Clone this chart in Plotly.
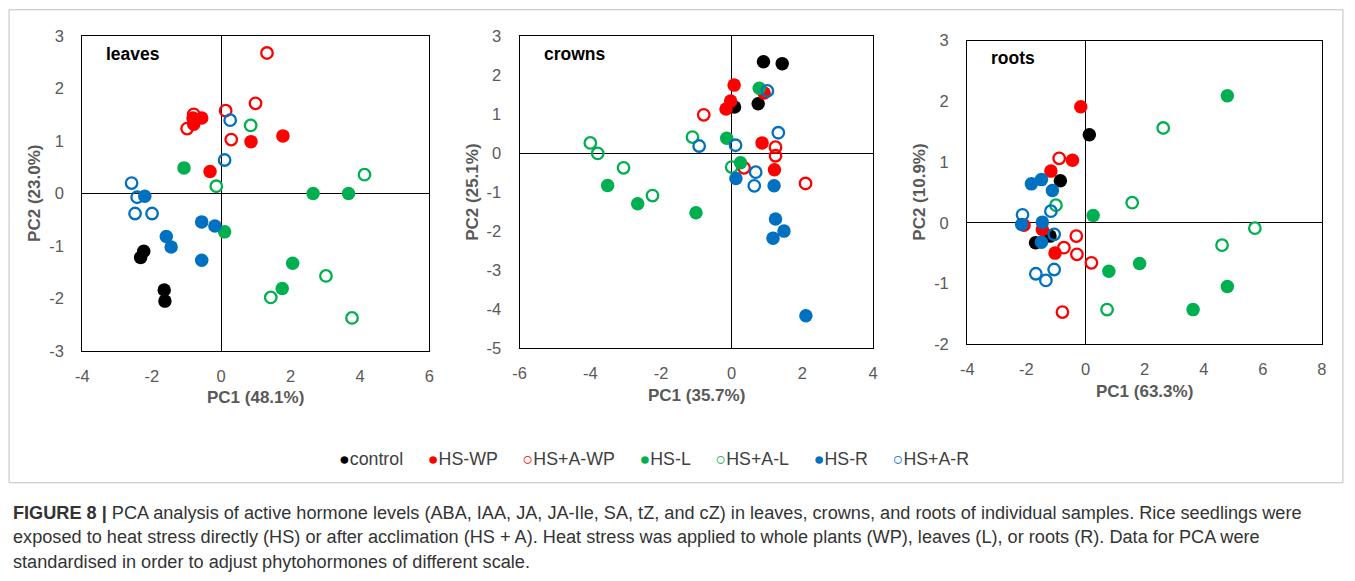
import plotly.graph_objects as go

# page geometry: the plot div sits inside an 8px body margin; the captured
# page (about 1366 x 599) comes out scaled to 1355 x 581
PAD = 8
W, H = 1350, 582
SX = 1355 / 1366
SY = 581 / 599

# ---- PCA scores per tissue (PC1, PC2) ----
groups = ["control", "HS-WP", "HS+A-WP", "HS-L", "HS+A-L", "HS-R", "HS+A-R"]
colors = {"control": "#000000", "HS-WP": "#FF0000", "HS+A-WP": "#FF0000",
          "HS-L": "#00B050", "HS+A-L": "#00B050", "HS-R": "#0070C0", "HS+A-R": "#0070C0"}
open_groups = {"HS+A-WP", "HS+A-L", "HS+A-R"}

leaves_pc1 = {
    "control": [-2.23, -2.32, -1.64, -1.62],
    "HS-WP": [-0.81, -0.79, -0.56, -0.32, 0.86, 1.78],
    "HS+A-WP": [-0.98, -0.79, 0.13, 0.29, 0.99, 1.32],
    "HS-L": [-1.07, 0.10, 2.65, 3.67, 2.06, 1.76],
    "HS+A-L": [-0.14, 0.85, 4.13, 3.02, 1.43, 3.77],
    "HS-R": [-2.20, -0.56, -0.18, -1.58, -1.44, -0.56],
    "HS+A-R": [-2.58, -2.42, -2.48, -1.99, 0.10, 0.26],
}
leaves_pc2 = {
    "control": [-1.10, -1.22, -1.84, -2.05],
    "HS-WP": [1.44, 1.32, 1.44, 0.42, 0.99, 1.10],
    "HS+A-WP": [1.24, 1.51, 1.58, 1.03, 1.72, 2.68],
    "HS-L": [0.49, -0.73, 0.00, 0.00, -1.33, -1.81],
    "HS+A-L": [0.14, 1.30, 0.36, -1.57, -1.98, -2.37],
    "HS-R": [-0.05, -0.54, -0.62, -0.82, -1.02, -1.27],
    "HS+A-R": [0.20, -0.07, -0.38, -0.38, 0.64, 1.40],
}

crowns_pc1 = {
    "control": [0.90, 1.43, 0.75, 0.08],
    "HS-WP": [0.07, -0.03, -0.16, 0.92, 0.86, 1.21],
    "HS+A-WP": [-0.79, 1.24, 1.24, 0.35, 2.09],
    "HS-L": [-3.51, -2.66, -1.01, -0.14, 0.25, 0.78],
    "HS+A-L": [-4.00, -3.79, -3.06, -2.24, -1.11, 0.00],
    "HS-R": [0.12, 1.20, 1.24, 1.48, 1.17, 2.10],
    "HS+A-R": [-0.92, 0.11, 1.32, 0.68, 0.64, 1.01],
}
crowns_pc2 = {
    "control": [2.34, 2.29, 1.26, 1.18],
    "HS-WP": [1.74, 1.33, 1.13, 1.54, 0.26, -0.43],
    "HS+A-WP": [0.98, 0.15, -0.07, -0.38, -0.78],
    "HS-L": [-0.83, -1.30, -1.53, 0.38, -0.25, 1.66],
    "HS+A-L": [0.26, -0.01, -0.38, -1.09, 0.41, -0.36],
    "HS-R": [-0.65, -0.84, -1.69, -2.00, -2.18, -4.17],
    "HS+A-R": [0.18, 0.20, 0.52, -0.49, -0.84, 1.59],
}

roots_pc1 = {
    "control": [0.13, -0.85, -1.69, -1.20],
    "HS-WP": [-0.16, -0.44, -1.17, -2.08, -1.46, -1.03],
    "HS+A-WP": [-0.89, -0.31, -0.73, -0.29, 0.20, -0.78],
    "HS-L": [0.26, 0.79, 1.83, 4.80, 3.64, 4.80],
    "HS+A-L": [-1.00, 0.73, 2.63, 1.58, 4.62, 5.73],
    "HS-R": [-1.83, -1.49, -1.12, -2.16, -1.46, -1.49],
    "HS+A-R": [-2.13, -1.17, -1.06, -1.68, -1.34, -1.06],
}
roots_pc2 = {
    "control": [1.45, 0.69, -0.33, -0.22],
    "HS-WP": [1.91, 1.03, 0.85, -0.04, -0.11, -0.50],
    "HS+A-WP": [1.06, -0.22, -0.41, -0.52, -0.66, -1.47],
    "HS-L": [0.12, -0.80, -0.67, -1.05, -1.43, 2.09],
    "HS+A-L": [0.29, -1.43, 1.56, 0.33, -0.37, -0.09],
    "HS-R": [0.64, 0.71, 0.53, -0.03, 0.01, -0.32],
    "HS+A-R": [0.13, 0.19, -0.19, -0.84, -0.95, -0.77],
}

# ---- tick values / labels per panel ----
leaves_xticks = [-4, -2, 0, 2, 4, 6]
leaves_yticks = [-3, -2, -1, 0, 1, 2, 3]
crowns_xticks = [-6, -4, -2, 0, 2, 4]
crowns_yticks = [-5, -4, -3, -2, -1, 0, 1, 2, 3]
roots_xticks = [-4, -2, 0, 2, 4, 6, 8]
roots_yticks = [-2, -1, 0, 1, 2, 3]

panels = [
    {"name": "leaves", "pc1": leaves_pc1, "pc2": leaves_pc2,
     "xtitle": "PC1 (48.1%)", "ytitle": "PC2 (23.0%)",
     "xt": leaves_xticks, "yt": leaves_yticks, "box": (83.3, 430.7, 35.0, 350.0)},
    {"name": "crowns", "pc1": crowns_pc1, "pc2": crowns_pc2,
     "xtitle": "PC1 (35.7%)", "ytitle": "PC2 (25.1%)",
     "xt": crowns_xticks, "yt": crowns_yticks, "box": (521.0, 874.7, 34.7, 347.3)},
    {"name": "roots", "pc1": roots_pc1, "pc2": roots_pc2,
     "xtitle": "PC1 (63.3%)", "ytitle": "PC2 (10.9%)",
     "xt": roots_xticks, "yt": roots_yticks, "box": (969.0, 1324.0, 39.3, 343.3)},
]

def px_x(p):
    """image column -> paper fraction"""
    return (p / SX - PAD) / W

def px_y(p):
    """image row -> paper fraction"""
    return 1 - (p / SY - PAD) / H

fig = go.Figure()
ARIAL = "Liberation Sans, Arial, sans-serif"
tick_font = dict(family=ARIAL, size=16.5, color="#595959")
title_font = dict(family=ARIAL, size=17, color="#595959")

for i, pn in enumerate(panels):
    k = "" if i == 0 else str(i + 1)
    x0, x1, y0, y1 = pn["box"]
    for g in groups:
        is_open = g in open_groups
        fig.add_trace(go.Scatter(
            x=pn["pc1"][g], y=pn["pc2"][g], mode="markers", name=g,
            xaxis="x" + k, yaxis="y" + k, showlegend=False,
            marker=dict(symbol="circle-open" if is_open else "circle",
                        size=11.5 if is_open else 13.5, color=colors[g],
                        line=dict(width=2.3 if is_open else 0, color=colors[g])),
        ))
    axis_common = dict(showgrid=False, zeroline=True, zerolinecolor="#000000",
                       zerolinewidth=1.3, showline=True, linecolor="#000000",
                       linewidth=1.3, mirror=True, ticks="", tickfont=tick_font)
    xt, yt = pn["xt"], pn["yt"]
    fig.layout["xaxis" + k] = dict(axis_common, range=[xt[0], xt[-1]],
                                   tickvals=xt, ticktext=[str(v) for v in xt],
                                   domain=[px_x(x0), px_x(x1)], anchor="y" + k,
                                   ticklabelstandoff=10)
    fig.layout["yaxis" + k] = dict(axis_common, range=[yt[0], yt[-1]],
                                   tickvals=yt, ticktext=[str(v) for v in yt],
                                   domain=[px_y(y1), px_y(y0)], anchor="x" + k,
                                   ticklabelstandoff=14)
    # panel label and axis titles
    fig.add_annotation(x=px_x(x0 + 22), y=px_y(y0 + 18), xref="paper", yref="paper",
                       text="<b>%s</b>" % pn["name"], showarrow=False,
                       xanchor="left", yanchor="middle",
                       font=dict(family=ARIAL, size=17.5, color="#000000"))
    fig.add_annotation(x=px_x((x0 + x1) / 2), y=px_y(y1 + 47), xref="paper", yref="paper",
                       text="<b>%s</b>" % pn["xtitle"], showarrow=False,
                       xanchor="center", yanchor="middle", font=title_font)
    fig.add_annotation(x=px_x(x0 - 48), y=px_y((y0 + y1) / 2), xref="paper", yref="paper",
                       text="<b>%s</b>" % pn["ytitle"], showarrow=False, textangle=-90,
                       xanchor="center", yanchor="middle", font=title_font)

# legend row: coloured glyph followed by the group name
legend_parts = []
for g in groups:
    glyph = "\u25cb" if g in open_groups else "\u25cf"
    legend_parts.append("<span style='color:%s'>%s</span>%s" % (colors[g], glyph, g))
fig.add_annotation(x=px_x(655), y=px_y(458), xref="paper", yref="paper",
                   text="&nbsp;&nbsp;&nbsp;&nbsp;&nbsp;".join(legend_parts),
                   showarrow=False, xanchor="center", yanchor="middle",
                   font=dict(family=ARIAL, size=17.8, color="#404040"))

caption = [
    "<b>FIGURE 8 |</b> PCA analysis of active hormone levels (ABA, IAA, JA, JA-Ile, SA, tZ, and cZ) in leaves, crowns, and roots of individual samples. Rice seedlings were",
    "exposed to heat stress directly (HS) or after acclimation (HS + A). Heat stress was applied to whole plants (WP), leaves (L), or roots (R). Data for PCA were",
    "standardised in order to adjust phytohormones of different scale.",
]
for j, line in enumerate(caption):
    fig.add_annotation(x=px_x(12), y=px_y(512 + 24.5 * j), xref="paper", yref="paper",
                       text=line, showarrow=False, xanchor="left", yanchor="middle",
                       font=dict(family=ARIAL, size=18.15, color="#333333"))

# figure frame
fig.add_shape(type="rect", xref="paper", yref="paper",
              x0=px_x(10), x1=px_x(1345), y0=px_y(482), y1=px_y(8.5),
              line=dict(color="#bfbfbf", width=1), fillcolor="rgba(0,0,0,0)")

fig.update_layout(
    width=W, height=H, margin=dict(l=0, r=0, t=0, b=0),
    paper_bgcolor="#ffffff", plot_bgcolor="#ffffff", showlegend=False,
)

fig.write_html("out.html")
